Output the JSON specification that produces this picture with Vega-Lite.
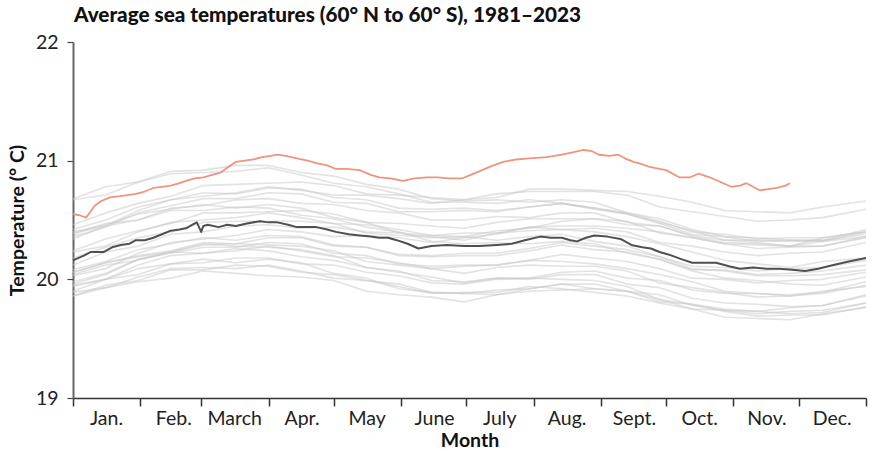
{
"$schema":"https://vega.github.io/schema/vega-lite/v6.json",
"width":793,"height":356,
"autosize":{"type":"none"},
"padding":{"left":73,"top":42,"right":20,"bottom":53},
"background":"white",
"title":{"text":"Average sea temperatures (60° N to 60° S), 1981–2023","anchor":"start","frame":"group","font":"Lato","fontSize":20.7,"fontWeight":900,"color":"#111","offset":5,"dx":1},
"config":{"view":{"stroke":null},"font":"Lato","axis":{"grid":false,"labelFont":"Lato","labelFontSize":19.5,"labelColor":"#222","titleFont":"Lato","titleFontSize":19.5,"titleFontWeight":"bold","titleColor":"#111","tickColor":"#444","domainColor":"#444"}},
"datasets":{
"grey":[
{"yr":1982,"d":0,"t":19.86},{"yr":1982,"d":15,"t":19.95},{"yr":1982,"d":30,"t":19.99},{"yr":1982,"d":45,"t":20.08},{"yr":1982,"d":60,"t":20.08},{"yr":1982,"d":75,"t":20.12},{"yr":1982,"d":90,"t":20.11},{"yr":1982,"d":105,"t":20.06},{"yr":1982,"d":120,"t":20.04},{"yr":1982,"d":135,"t":19.99},{"yr":1982,"d":150,"t":19.96},{"yr":1982,"d":165,"t":19.89},{"yr":1982,"d":180,"t":19.88},{"yr":1982,"d":195,"t":19.91},{"yr":1982,"d":210,"t":19.92},{"yr":1982,"d":225,"t":19.96},{"yr":1982,"d":240,"t":19.96},{"yr":1982,"d":255,"t":19.90},{"yr":1982,"d":270,"t":19.87},{"yr":1982,"d":285,"t":19.78},{"yr":1982,"d":300,"t":19.74},{"yr":1982,"d":315,"t":19.73},{"yr":1982,"d":330,"t":19.71},{"yr":1982,"d":345,"t":19.72},{"yr":1982,"d":365,"t":19.80},
{"yr":1983,"d":0,"t":19.94},{"yr":1983,"d":15,"t":20.00},{"yr":1983,"d":30,"t":20.09},{"yr":1983,"d":45,"t":20.13},{"yr":1983,"d":60,"t":20.17},{"yr":1983,"d":75,"t":20.14},{"yr":1983,"d":90,"t":20.17},{"yr":1983,"d":105,"t":20.14},{"yr":1983,"d":120,"t":20.05},{"yr":1983,"d":135,"t":20.01},{"yr":1983,"d":150,"t":19.92},{"yr":1983,"d":165,"t":19.89},{"yr":1983,"d":180,"t":19.88},{"yr":1983,"d":195,"t":19.87},{"yr":1983,"d":210,"t":19.92},{"yr":1983,"d":225,"t":19.96},{"yr":1983,"d":240,"t":19.92},{"yr":1983,"d":255,"t":19.90},{"yr":1983,"d":270,"t":19.83},{"yr":1983,"d":285,"t":19.75},{"yr":1983,"d":300,"t":19.74},{"yr":1983,"d":315,"t":19.71},{"yr":1983,"d":330,"t":19.73},{"yr":1983,"d":345,"t":19.74},{"yr":1983,"d":365,"t":19.80},
{"yr":1984,"d":0,"t":19.86},{"yr":1984,"d":15,"t":19.93},{"yr":1984,"d":30,"t":19.98},{"yr":1984,"d":45,"t":20.01},{"yr":1984,"d":60,"t":20.07},{"yr":1984,"d":75,"t":20.05},{"yr":1984,"d":90,"t":20.03},{"yr":1984,"d":105,"t":20.02},{"yr":1984,"d":120,"t":19.99},{"yr":1984,"d":135,"t":19.90},{"yr":1984,"d":150,"t":19.87},{"yr":1984,"d":165,"t":19.85},{"yr":1984,"d":180,"t":19.81},{"yr":1984,"d":195,"t":19.87},{"yr":1984,"d":210,"t":19.90},{"yr":1984,"d":225,"t":19.91},{"yr":1984,"d":240,"t":19.92},{"yr":1984,"d":255,"t":19.90},{"yr":1984,"d":270,"t":19.81},{"yr":1984,"d":285,"t":19.79},{"yr":1984,"d":300,"t":19.75},{"yr":1984,"d":315,"t":19.73},{"yr":1984,"d":330,"t":19.76},{"yr":1984,"d":345,"t":19.78},{"yr":1984,"d":365,"t":19.87},
{"yr":1985,"d":0,"t":19.89},{"yr":1985,"d":15,"t":19.93},{"yr":1985,"d":30,"t":20.02},{"yr":1985,"d":45,"t":20.09},{"yr":1985,"d":60,"t":20.10},{"yr":1985,"d":75,"t":20.09},{"yr":1985,"d":90,"t":20.12},{"yr":1985,"d":105,"t":20.07},{"yr":1985,"d":120,"t":20.01},{"yr":1985,"d":135,"t":19.99},{"yr":1985,"d":150,"t":19.94},{"yr":1985,"d":165,"t":19.88},{"yr":1985,"d":180,"t":19.89},{"yr":1985,"d":195,"t":19.89},{"yr":1985,"d":210,"t":19.94},{"yr":1985,"d":225,"t":19.92},{"yr":1985,"d":240,"t":19.89},{"yr":1985,"d":255,"t":19.86},{"yr":1985,"d":270,"t":19.80},{"yr":1985,"d":285,"t":19.75},{"yr":1985,"d":300,"t":19.68},{"yr":1985,"d":315,"t":19.67},{"yr":1985,"d":330,"t":19.66},{"yr":1985,"d":345,"t":19.71},{"yr":1985,"d":365,"t":19.76},
{"yr":1986,"d":0,"t":19.90},{"yr":1986,"d":15,"t":20.00},{"yr":1986,"d":30,"t":20.04},{"yr":1986,"d":45,"t":20.13},{"yr":1986,"d":60,"t":20.14},{"yr":1986,"d":75,"t":20.18},{"yr":1986,"d":90,"t":20.18},{"yr":1986,"d":105,"t":20.13},{"yr":1986,"d":120,"t":20.12},{"yr":1986,"d":135,"t":20.06},{"yr":1986,"d":150,"t":20.03},{"yr":1986,"d":165,"t":19.97},{"yr":1986,"d":180,"t":19.96},{"yr":1986,"d":195,"t":20.00},{"yr":1986,"d":210,"t":20.01},{"yr":1986,"d":225,"t":20.06},{"yr":1986,"d":240,"t":20.07},{"yr":1986,"d":255,"t":20.01},{"yr":1986,"d":270,"t":19.99},{"yr":1986,"d":285,"t":19.91},{"yr":1986,"d":300,"t":19.88},{"yr":1986,"d":315,"t":19.88},{"yr":1986,"d":330,"t":19.87},{"yr":1986,"d":345,"t":19.89},{"yr":1986,"d":365,"t":19.98},
{"yr":1987,"d":0,"t":19.98},{"yr":1987,"d":15,"t":20.05},{"yr":1987,"d":30,"t":20.17},{"yr":1987,"d":45,"t":20.22},{"yr":1987,"d":60,"t":20.27},{"yr":1987,"d":75,"t":20.27},{"yr":1987,"d":90,"t":20.31},{"yr":1987,"d":105,"t":20.30},{"yr":1987,"d":120,"t":20.22},{"yr":1987,"d":135,"t":20.20},{"yr":1987,"d":150,"t":20.13},{"yr":1987,"d":165,"t":20.11},{"yr":1987,"d":180,"t":20.12},{"yr":1987,"d":195,"t":20.12},{"yr":1987,"d":210,"t":20.16},{"yr":1987,"d":225,"t":20.21},{"yr":1987,"d":240,"t":20.18},{"yr":1987,"d":255,"t":20.15},{"yr":1987,"d":270,"t":20.09},{"yr":1987,"d":285,"t":20.01},{"yr":1987,"d":300,"t":20.00},{"yr":1987,"d":315,"t":19.97},{"yr":1987,"d":330,"t":19.99},{"yr":1987,"d":345,"t":20.00},{"yr":1987,"d":365,"t":20.06},
{"yr":1988,"d":0,"t":20.06},{"yr":1988,"d":15,"t":20.14},{"yr":1988,"d":30,"t":20.19},{"yr":1988,"d":45,"t":20.23},{"yr":1988,"d":60,"t":20.30},{"yr":1988,"d":75,"t":20.28},{"yr":1988,"d":90,"t":20.27},{"yr":1988,"d":105,"t":20.25},{"yr":1988,"d":120,"t":20.20},{"yr":1988,"d":135,"t":20.10},{"yr":1988,"d":150,"t":20.06},{"yr":1988,"d":165,"t":20.02},{"yr":1988,"d":180,"t":19.97},{"yr":1988,"d":195,"t":20.01},{"yr":1988,"d":210,"t":20.01},{"yr":1988,"d":225,"t":20.00},{"yr":1988,"d":240,"t":19.99},{"yr":1988,"d":255,"t":19.94},{"yr":1988,"d":270,"t":19.83},{"yr":1988,"d":285,"t":19.79},{"yr":1988,"d":300,"t":19.73},{"yr":1988,"d":315,"t":19.69},{"yr":1988,"d":330,"t":19.70},{"yr":1988,"d":345,"t":19.70},{"yr":1988,"d":365,"t":19.77},
{"yr":1990,"d":0,"t":19.95},{"yr":1990,"d":15,"t":20.00},{"yr":1990,"d":30,"t":20.12},{"yr":1990,"d":45,"t":20.20},{"yr":1990,"d":60,"t":20.22},{"yr":1990,"d":75,"t":20.24},{"yr":1990,"d":90,"t":20.28},{"yr":1990,"d":105,"t":20.24},{"yr":1990,"d":120,"t":20.19},{"yr":1990,"d":135,"t":20.18},{"yr":1990,"d":150,"t":20.14},{"yr":1990,"d":165,"t":20.09},{"yr":1990,"d":180,"t":20.11},{"yr":1990,"d":195,"t":20.12},{"yr":1990,"d":210,"t":20.16},{"yr":1990,"d":225,"t":20.15},{"yr":1990,"d":240,"t":20.13},{"yr":1990,"d":255,"t":20.09},{"yr":1990,"d":270,"t":20.04},{"yr":1990,"d":285,"t":19.98},{"yr":1990,"d":300,"t":19.90},{"yr":1990,"d":315,"t":19.88},{"yr":1990,"d":330,"t":19.86},{"yr":1990,"d":345,"t":19.90},{"yr":1990,"d":365,"t":19.94},
{"yr":1992,"d":0,"t":20.04},{"yr":1992,"d":15,"t":20.12},{"yr":1992,"d":30,"t":20.16},{"yr":1992,"d":45,"t":20.23},{"yr":1992,"d":60,"t":20.22},{"yr":1992,"d":75,"t":20.26},{"yr":1992,"d":90,"t":20.24},{"yr":1992,"d":105,"t":20.19},{"yr":1992,"d":120,"t":20.16},{"yr":1992,"d":135,"t":20.10},{"yr":1992,"d":150,"t":20.07},{"yr":1992,"d":165,"t":19.99},{"yr":1992,"d":180,"t":19.98},{"yr":1992,"d":195,"t":20.01},{"yr":1992,"d":210,"t":20.00},{"yr":1992,"d":225,"t":20.04},{"yr":1992,"d":240,"t":20.04},{"yr":1992,"d":255,"t":19.96},{"yr":1992,"d":270,"t":19.93},{"yr":1992,"d":285,"t":19.84},{"yr":1992,"d":300,"t":19.80},{"yr":1992,"d":315,"t":19.79},{"yr":1992,"d":330,"t":19.77},{"yr":1992,"d":345,"t":19.78},{"yr":1992,"d":365,"t":19.86},
{"yr":1994,"d":0,"t":19.96},{"yr":1994,"d":15,"t":20.04},{"yr":1994,"d":30,"t":20.17},{"yr":1994,"d":45,"t":20.23},{"yr":1994,"d":60,"t":20.29},{"yr":1994,"d":75,"t":20.30},{"yr":1994,"d":90,"t":20.35},{"yr":1994,"d":105,"t":20.35},{"yr":1994,"d":120,"t":20.28},{"yr":1994,"d":135,"t":20.27},{"yr":1994,"d":150,"t":20.21},{"yr":1994,"d":165,"t":20.20},{"yr":1994,"d":180,"t":20.22},{"yr":1994,"d":195,"t":20.22},{"yr":1994,"d":210,"t":20.26},{"yr":1994,"d":225,"t":20.31},{"yr":1994,"d":240,"t":20.28},{"yr":1994,"d":255,"t":20.25},{"yr":1994,"d":270,"t":20.19},{"yr":1994,"d":285,"t":20.11},{"yr":1994,"d":300,"t":20.10},{"yr":1994,"d":315,"t":20.07},{"yr":1994,"d":330,"t":20.09},{"yr":1994,"d":345,"t":20.10},{"yr":1994,"d":365,"t":20.16},
{"yr":1996,"d":0,"t":20.06},{"yr":1996,"d":15,"t":20.14},{"yr":1996,"d":30,"t":20.20},{"yr":1996,"d":45,"t":20.24},{"yr":1996,"d":60,"t":20.31},{"yr":1996,"d":75,"t":20.30},{"yr":1996,"d":90,"t":20.29},{"yr":1996,"d":105,"t":20.28},{"yr":1996,"d":120,"t":20.24},{"yr":1996,"d":135,"t":20.15},{"yr":1996,"d":150,"t":20.12},{"yr":1996,"d":165,"t":20.09},{"yr":1996,"d":180,"t":20.05},{"yr":1996,"d":195,"t":20.10},{"yr":1996,"d":210,"t":20.12},{"yr":1996,"d":225,"t":20.11},{"yr":1996,"d":240,"t":20.11},{"yr":1996,"d":255,"t":20.07},{"yr":1996,"d":270,"t":19.97},{"yr":1996,"d":285,"t":19.93},{"yr":1996,"d":300,"t":19.89},{"yr":1996,"d":315,"t":19.85},{"yr":1996,"d":330,"t":19.86},{"yr":1996,"d":345,"t":19.88},{"yr":1996,"d":365,"t":19.95},
{"yr":1997,"d":0,"t":20.03},{"yr":1997,"d":15,"t":20.09},{"yr":1997,"d":30,"t":20.22},{"yr":1997,"d":45,"t":20.31},{"yr":1997,"d":60,"t":20.34},{"yr":1997,"d":75,"t":20.37},{"yr":1997,"d":90,"t":20.42},{"yr":1997,"d":105,"t":20.40},{"yr":1997,"d":120,"t":20.36},{"yr":1997,"d":135,"t":20.37},{"yr":1997,"d":150,"t":20.35},{"yr":1997,"d":165,"t":20.31},{"yr":1997,"d":180,"t":20.35},{"yr":1997,"d":195,"t":20.38},{"yr":1997,"d":210,"t":20.44},{"yr":1997,"d":225,"t":20.45},{"yr":1997,"d":240,"t":20.45},{"yr":1997,"d":255,"t":20.43},{"yr":1997,"d":270,"t":20.40},{"yr":1997,"d":285,"t":20.35},{"yr":1997,"d":300,"t":20.30},{"yr":1997,"d":315,"t":20.29},{"yr":1997,"d":330,"t":20.28},{"yr":1997,"d":345,"t":20.35},{"yr":1997,"d":365,"t":20.40},
{"yr":1998,"d":0,"t":20.38},{"yr":1998,"d":15,"t":20.47},{"yr":1998,"d":30,"t":20.50},{"yr":1998,"d":45,"t":20.58},{"yr":1998,"d":60,"t":20.58},{"yr":1998,"d":75,"t":20.61},{"yr":1998,"d":90,"t":20.60},{"yr":1998,"d":105,"t":20.54},{"yr":1998,"d":120,"t":20.51},{"yr":1998,"d":135,"t":20.44},{"yr":1998,"d":150,"t":20.40},{"yr":1998,"d":165,"t":20.32},{"yr":1998,"d":180,"t":20.30},{"yr":1998,"d":195,"t":20.31},{"yr":1998,"d":210,"t":20.30},{"yr":1998,"d":225,"t":20.32},{"yr":1998,"d":240,"t":20.30},{"yr":1998,"d":255,"t":20.22},{"yr":1998,"d":270,"t":20.17},{"yr":1998,"d":285,"t":20.07},{"yr":1998,"d":300,"t":20.01},{"yr":1998,"d":315,"t":19.99},{"yr":1998,"d":330,"t":19.96},{"yr":1998,"d":345,"t":19.95},{"yr":1998,"d":365,"t":20.02},
{"yr":2000,"d":0,"t":20.08},{"yr":2000,"d":15,"t":20.15},{"yr":2000,"d":30,"t":20.25},{"yr":2000,"d":45,"t":20.30},{"yr":2000,"d":60,"t":20.35},{"yr":2000,"d":75,"t":20.33},{"yr":2000,"d":90,"t":20.37},{"yr":2000,"d":105,"t":20.36},{"yr":2000,"d":120,"t":20.29},{"yr":2000,"d":135,"t":20.27},{"yr":2000,"d":150,"t":20.20},{"yr":2000,"d":165,"t":20.19},{"yr":2000,"d":180,"t":20.20},{"yr":2000,"d":195,"t":20.20},{"yr":2000,"d":210,"t":20.24},{"yr":2000,"d":225,"t":20.29},{"yr":2000,"d":240,"t":20.25},{"yr":2000,"d":255,"t":20.23},{"yr":2000,"d":270,"t":20.17},{"yr":2000,"d":285,"t":20.08},{"yr":2000,"d":300,"t":20.08},{"yr":2000,"d":315,"t":20.04},{"yr":2000,"d":330,"t":20.05},{"yr":2000,"d":345,"t":20.07},{"yr":2000,"d":365,"t":20.12},
{"yr":2002,"d":0,"t":20.18},{"yr":2002,"d":15,"t":20.27},{"yr":2002,"d":30,"t":20.35},{"yr":2002,"d":45,"t":20.40},{"yr":2002,"d":60,"t":20.48},{"yr":2002,"d":75,"t":20.49},{"yr":2002,"d":90,"t":20.49},{"yr":2002,"d":105,"t":20.49},{"yr":2002,"d":120,"t":20.47},{"yr":2002,"d":135,"t":20.39},{"yr":2002,"d":150,"t":20.37},{"yr":2002,"d":165,"t":20.36},{"yr":2002,"d":180,"t":20.33},{"yr":2002,"d":195,"t":20.39},{"yr":2002,"d":210,"t":20.41},{"yr":2002,"d":225,"t":20.42},{"yr":2002,"d":240,"t":20.43},{"yr":2002,"d":255,"t":20.40},{"yr":2002,"d":270,"t":20.31},{"yr":2002,"d":285,"t":20.28},{"yr":2002,"d":300,"t":20.23},{"yr":2002,"d":315,"t":20.20},{"yr":2002,"d":330,"t":20.22},{"yr":2002,"d":345,"t":20.23},{"yr":2002,"d":365,"t":20.31},
{"yr":2005,"d":0,"t":20.23},{"yr":2005,"d":15,"t":20.28},{"yr":2005,"d":30,"t":20.40},{"yr":2005,"d":45,"t":20.48},{"yr":2005,"d":60,"t":20.50},{"yr":2005,"d":75,"t":20.52},{"yr":2005,"d":90,"t":20.56},{"yr":2005,"d":105,"t":20.52},{"yr":2005,"d":120,"t":20.47},{"yr":2005,"d":135,"t":20.46},{"yr":2005,"d":150,"t":20.42},{"yr":2005,"d":165,"t":20.37},{"yr":2005,"d":180,"t":20.39},{"yr":2005,"d":195,"t":20.39},{"yr":2005,"d":210,"t":20.44},{"yr":2005,"d":225,"t":20.42},{"yr":2005,"d":240,"t":20.40},{"yr":2005,"d":255,"t":20.36},{"yr":2005,"d":270,"t":20.30},{"yr":2005,"d":285,"t":20.23},{"yr":2005,"d":300,"t":20.16},{"yr":2005,"d":315,"t":20.13},{"yr":2005,"d":330,"t":20.10},{"yr":2005,"d":345,"t":20.15},{"yr":2005,"d":365,"t":20.18},
{"yr":2009,"d":0,"t":20.12},{"yr":2009,"d":15,"t":20.23},{"yr":2009,"d":30,"t":20.28},{"yr":2009,"d":45,"t":20.38},{"yr":2009,"d":60,"t":20.40},{"yr":2009,"d":75,"t":20.45},{"yr":2009,"d":90,"t":20.46},{"yr":2009,"d":105,"t":20.43},{"yr":2009,"d":120,"t":20.44},{"yr":2009,"d":135,"t":20.40},{"yr":2009,"d":150,"t":20.39},{"yr":2009,"d":165,"t":20.35},{"yr":2009,"d":180,"t":20.36},{"yr":2009,"d":195,"t":20.41},{"yr":2009,"d":210,"t":20.43},{"yr":2009,"d":225,"t":20.49},{"yr":2009,"d":240,"t":20.51},{"yr":2009,"d":255,"t":20.46},{"yr":2009,"d":270,"t":20.45},{"yr":2009,"d":285,"t":20.37},{"yr":2009,"d":300,"t":20.33},{"yr":2009,"d":315,"t":20.33},{"yr":2009,"d":330,"t":20.32},{"yr":2009,"d":345,"t":20.33},{"yr":2009,"d":365,"t":20.42},
{"yr":2010,"d":0,"t":20.40},{"yr":2010,"d":15,"t":20.46},{"yr":2010,"d":30,"t":20.55},{"yr":2010,"d":45,"t":20.59},{"yr":2010,"d":60,"t":20.63},{"yr":2010,"d":75,"t":20.60},{"yr":2010,"d":90,"t":20.63},{"yr":2010,"d":105,"t":20.60},{"yr":2010,"d":120,"t":20.52},{"yr":2010,"d":135,"t":20.48},{"yr":2010,"d":150,"t":20.39},{"yr":2010,"d":165,"t":20.37},{"yr":2010,"d":180,"t":20.36},{"yr":2010,"d":195,"t":20.33},{"yr":2010,"d":210,"t":20.36},{"yr":2010,"d":225,"t":20.38},{"yr":2010,"d":240,"t":20.32},{"yr":2010,"d":255,"t":20.28},{"yr":2010,"d":270,"t":20.19},{"yr":2010,"d":285,"t":20.09},{"yr":2010,"d":300,"t":20.07},{"yr":2010,"d":315,"t":20.03},{"yr":2010,"d":330,"t":20.03},{"yr":2010,"d":345,"t":20.04},{"yr":2010,"d":365,"t":20.08},
{"yr":2013,"d":0,"t":20.24},{"yr":2013,"d":15,"t":20.34},{"yr":2013,"d":30,"t":20.41},{"yr":2013,"d":45,"t":20.47},{"yr":2013,"d":60,"t":20.56},{"yr":2013,"d":75,"t":20.56},{"yr":2013,"d":90,"t":20.57},{"yr":2013,"d":105,"t":20.58},{"yr":2013,"d":120,"t":20.55},{"yr":2013,"d":135,"t":20.48},{"yr":2013,"d":150,"t":20.47},{"yr":2013,"d":165,"t":20.45},{"yr":2013,"d":180,"t":20.43},{"yr":2013,"d":195,"t":20.48},{"yr":2013,"d":210,"t":20.51},{"yr":2013,"d":225,"t":20.51},{"yr":2013,"d":240,"t":20.51},{"yr":2013,"d":255,"t":20.49},{"yr":2013,"d":270,"t":20.39},{"yr":2013,"d":285,"t":20.35},{"yr":2013,"d":300,"t":20.30},{"yr":2013,"d":315,"t":20.26},{"yr":2013,"d":330,"t":20.27},{"yr":2013,"d":345,"t":20.28},{"yr":2013,"d":365,"t":20.35},
{"yr":2015,"d":0,"t":20.39},{"yr":2015,"d":15,"t":20.45},{"yr":2015,"d":30,"t":20.58},{"yr":2015,"d":45,"t":20.67},{"yr":2015,"d":60,"t":20.70},{"yr":2015,"d":75,"t":20.73},{"yr":2015,"d":90,"t":20.78},{"yr":2015,"d":105,"t":20.75},{"yr":2015,"d":120,"t":20.71},{"yr":2015,"d":135,"t":20.71},{"yr":2015,"d":150,"t":20.68},{"yr":2015,"d":165,"t":20.64},{"yr":2015,"d":180,"t":20.67},{"yr":2015,"d":195,"t":20.69},{"yr":2015,"d":210,"t":20.76},{"yr":2015,"d":225,"t":20.76},{"yr":2015,"d":240,"t":20.75},{"yr":2015,"d":255,"t":20.74},{"yr":2015,"d":270,"t":20.70},{"yr":2015,"d":285,"t":20.65},{"yr":2015,"d":300,"t":20.58},{"yr":2015,"d":315,"t":20.57},{"yr":2015,"d":330,"t":20.56},{"yr":2015,"d":345,"t":20.61},{"yr":2015,"d":365,"t":20.66},
{"yr":2016,"d":0,"t":20.68},{"yr":2016,"d":15,"t":20.78},{"yr":2016,"d":30,"t":20.82},{"yr":2016,"d":45,"t":20.91},{"yr":2016,"d":60,"t":20.92},{"yr":2016,"d":75,"t":20.96},{"yr":2016,"d":90,"t":20.96},{"yr":2016,"d":105,"t":20.90},{"yr":2016,"d":120,"t":20.87},{"yr":2016,"d":135,"t":20.80},{"yr":2016,"d":150,"t":20.76},{"yr":2016,"d":165,"t":20.68},{"yr":2016,"d":180,"t":20.66},{"yr":2016,"d":195,"t":20.67},{"yr":2016,"d":210,"t":20.65},{"yr":2016,"d":225,"t":20.67},{"yr":2016,"d":240,"t":20.65},{"yr":2016,"d":255,"t":20.56},{"yr":2016,"d":270,"t":20.51},{"yr":2016,"d":285,"t":20.42},{"yr":2016,"d":300,"t":20.36},{"yr":2016,"d":315,"t":20.35},{"yr":2016,"d":330,"t":20.33},{"yr":2016,"d":345,"t":20.32},{"yr":2016,"d":365,"t":20.40},
{"yr":2017,"d":0,"t":20.42},{"yr":2017,"d":15,"t":20.50},{"yr":2017,"d":30,"t":20.61},{"yr":2017,"d":45,"t":20.67},{"yr":2017,"d":60,"t":20.73},{"yr":2017,"d":75,"t":20.72},{"yr":2017,"d":90,"t":20.77},{"yr":2017,"d":105,"t":20.76},{"yr":2017,"d":120,"t":20.69},{"yr":2017,"d":135,"t":20.67},{"yr":2017,"d":150,"t":20.60},{"yr":2017,"d":165,"t":20.59},{"yr":2017,"d":180,"t":20.60},{"yr":2017,"d":195,"t":20.58},{"yr":2017,"d":210,"t":20.61},{"yr":2017,"d":225,"t":20.64},{"yr":2017,"d":240,"t":20.59},{"yr":2017,"d":255,"t":20.55},{"yr":2017,"d":270,"t":20.47},{"yr":2017,"d":285,"t":20.38},{"yr":2017,"d":300,"t":20.36},{"yr":2017,"d":315,"t":20.32},{"yr":2017,"d":330,"t":20.33},{"yr":2017,"d":345,"t":20.33},{"yr":2017,"d":365,"t":20.38},
{"yr":2019,"d":0,"t":20.46},{"yr":2019,"d":15,"t":20.56},{"yr":2019,"d":30,"t":20.64},{"yr":2019,"d":45,"t":20.70},{"yr":2019,"d":60,"t":20.79},{"yr":2019,"d":75,"t":20.80},{"yr":2019,"d":90,"t":20.81},{"yr":2019,"d":105,"t":20.82},{"yr":2019,"d":120,"t":20.79},{"yr":2019,"d":135,"t":20.72},{"yr":2019,"d":150,"t":20.71},{"yr":2019,"d":165,"t":20.69},{"yr":2019,"d":180,"t":20.67},{"yr":2019,"d":195,"t":20.72},{"yr":2019,"d":210,"t":20.74},{"yr":2019,"d":225,"t":20.74},{"yr":2019,"d":240,"t":20.74},{"yr":2019,"d":255,"t":20.71},{"yr":2019,"d":270,"t":20.61},{"yr":2019,"d":285,"t":20.57},{"yr":2019,"d":300,"t":20.53},{"yr":2019,"d":315,"t":20.49},{"yr":2019,"d":330,"t":20.50},{"yr":2019,"d":345,"t":20.52},{"yr":2019,"d":365,"t":20.59},
{"yr":2020,"d":0,"t":20.67},{"yr":2020,"d":15,"t":20.71},{"yr":2020,"d":30,"t":20.82},{"yr":2020,"d":45,"t":20.89},{"yr":2020,"d":60,"t":20.90},{"yr":2020,"d":75,"t":20.91},{"yr":2020,"d":90,"t":20.94},{"yr":2020,"d":105,"t":20.88},{"yr":2020,"d":120,"t":20.81},{"yr":2020,"d":135,"t":20.78},{"yr":2020,"d":150,"t":20.72},{"yr":2020,"d":165,"t":20.65},{"yr":2020,"d":180,"t":20.65},{"yr":2020,"d":195,"t":20.64},{"yr":2020,"d":210,"t":20.67},{"yr":2020,"d":225,"t":20.64},{"yr":2020,"d":240,"t":20.60},{"yr":2020,"d":255,"t":20.55},{"yr":2020,"d":270,"t":20.48},{"yr":2020,"d":285,"t":20.41},{"yr":2020,"d":300,"t":20.33},{"yr":2020,"d":315,"t":20.31},{"yr":2020,"d":330,"t":20.28},{"yr":2020,"d":345,"t":20.32},{"yr":2020,"d":365,"t":20.36},
{"yr":2021,"d":0,"t":20.34},{"yr":2021,"d":15,"t":20.45},{"yr":2021,"d":30,"t":20.50},{"yr":2021,"d":45,"t":20.60},{"yr":2021,"d":60,"t":20.62},{"yr":2021,"d":75,"t":20.67},{"yr":2021,"d":90,"t":20.68},{"yr":2021,"d":105,"t":20.64},{"yr":2021,"d":120,"t":20.63},{"yr":2021,"d":135,"t":20.58},{"yr":2021,"d":150,"t":20.56},{"yr":2021,"d":165,"t":20.50},{"yr":2021,"d":180,"t":20.50},{"yr":2021,"d":195,"t":20.53},{"yr":2021,"d":210,"t":20.52},{"yr":2021,"d":225,"t":20.56},{"yr":2021,"d":240,"t":20.56},{"yr":2021,"d":255,"t":20.48},{"yr":2021,"d":270,"t":20.45},{"yr":2021,"d":285,"t":20.36},{"yr":2021,"d":300,"t":20.31},{"yr":2021,"d":315,"t":20.30},{"yr":2021,"d":330,"t":20.28},{"yr":2021,"d":345,"t":20.28},{"yr":2021,"d":365,"t":20.36},
{"yr":2022,"d":0,"t":20.36},{"yr":2022,"d":15,"t":20.44},{"yr":2022,"d":30,"t":20.56},{"yr":2022,"d":45,"t":20.62},{"yr":2022,"d":60,"t":20.68},{"yr":2022,"d":75,"t":20.68},{"yr":2022,"d":90,"t":20.73},{"yr":2022,"d":105,"t":20.72},{"yr":2022,"d":120,"t":20.65},{"yr":2022,"d":135,"t":20.64},{"yr":2022,"d":150,"t":20.57},{"yr":2022,"d":165,"t":20.57},{"yr":2022,"d":180,"t":20.58},{"yr":2022,"d":195,"t":20.57},{"yr":2022,"d":210,"t":20.61},{"yr":2022,"d":225,"t":20.64},{"yr":2022,"d":240,"t":20.60},{"yr":2022,"d":255,"t":20.56},{"yr":2022,"d":270,"t":20.49},{"yr":2022,"d":285,"t":20.40},{"yr":2022,"d":300,"t":20.38},{"yr":2022,"d":315,"t":20.34},{"yr":2022,"d":330,"t":20.35},{"yr":2022,"d":345,"t":20.35},{"yr":2022,"d":365,"t":20.40}
],
"mean":[
{"d":0,"t":20.16},{"d":5,"t":20.20},{"d":8,"t":20.23},{"d":14,"t":20.23},{"d":18,"t":20.27},{"d":22,"t":20.29},{"d":26,"t":20.30},{"d":29,"t":20.33},{"d":33,"t":20.33},{"d":37,"t":20.35},{"d":41,"t":20.38},{"d":45,"t":20.41},{"d":49,"t":20.42},{"d":52,"t":20.43},{"d":55,"t":20.46},{"d":57,"t":20.48},{"d":58,"t":20.44},{"d":59,"t":20.40},{"d":60,"t":20.45},{"d":62,"t":20.46},{"d":67,"t":20.44},{"d":71,"t":20.46},{"d":75,"t":20.45},{"d":80,"t":20.47},{"d":86,"t":20.49},{"d":90,"t":20.48},{"d":94,"t":20.48},{"d":99,"t":20.46},{"d":103,"t":20.44},{"d":108,"t":20.44},{"d":112,"t":20.44},{"d":117,"t":20.42},{"d":121,"t":20.40},{"d":127,"t":20.38},{"d":132,"t":20.37},{"d":137,"t":20.36},{"d":141,"t":20.35},{"d":145,"t":20.35},{"d":149,"t":20.33},{"d":154,"t":20.30},{"d":159,"t":20.26},{"d":165,"t":20.28},{"d":172,"t":20.29},{"d":180,"t":20.28},{"d":187,"t":20.28},{"d":195,"t":20.29},{"d":202,"t":20.30},{"d":208,"t":20.33},{"d":215,"t":20.36},{"d":220,"t":20.35},{"d":225,"t":20.35},{"d":229,"t":20.33},{"d":232,"t":20.32},{"d":236,"t":20.35},{"d":240,"t":20.37},{"d":246,"t":20.36},{"d":252,"t":20.34},{"d":257,"t":20.29},{"d":262,"t":20.27},{"d":266,"t":20.26},{"d":270,"t":20.23},{"d":274,"t":20.21},{"d":280,"t":20.17},{"d":285,"t":20.14},{"d":290,"t":20.14},{"d":296,"t":20.14},{"d":302,"t":20.11},{"d":307,"t":20.09},{"d":313,"t":20.10},{"d":319,"t":20.09},{"d":325,"t":20.09},{"d":331,"t":20.08},{"d":337,"t":20.07},{"d":343,"t":20.09},{"d":350,"t":20.12},{"d":357,"t":20.15},{"d":365,"t":20.18}
],
"y2023":[
{"d":0,"t":20.55},{"d":3,"t":20.54},{"d":6,"t":20.52},{"d":8,"t":20.57},{"d":10,"t":20.62},{"d":13,"t":20.66},{"d":17,"t":20.69},{"d":21,"t":20.70},{"d":25,"t":20.71},{"d":29,"t":20.72},{"d":33,"t":20.74},{"d":37,"t":20.77},{"d":41,"t":20.78},{"d":45,"t":20.79},{"d":49,"t":20.81},{"d":52,"t":20.83},{"d":56,"t":20.85},{"d":60,"t":20.86},{"d":64,"t":20.88},{"d":68,"t":20.90},{"d":71,"t":20.94},{"d":75,"t":20.99},{"d":79,"t":21.00},{"d":83,"t":21.01},{"d":87,"t":21.03},{"d":91,"t":21.04},{"d":94,"t":21.05},{"d":98,"t":21.04},{"d":103,"t":21.02},{"d":108,"t":21.00},{"d":112,"t":20.98},{"d":117,"t":20.96},{"d":121,"t":20.93},{"d":126,"t":20.93},{"d":132,"t":20.92},{"d":137,"t":20.88},{"d":141,"t":20.86},{"d":146,"t":20.85},{"d":152,"t":20.83},{"d":157,"t":20.85},{"d":163,"t":20.86},{"d":168,"t":20.86},{"d":173,"t":20.85},{"d":179,"t":20.85},{"d":183,"t":20.88},{"d":187,"t":20.91},{"d":192,"t":20.95},{"d":198,"t":20.99},{"d":204,"t":21.01},{"d":210,"t":21.02},{"d":218,"t":21.03},{"d":225,"t":21.05},{"d":230,"t":21.07},{"d":235,"t":21.09},{"d":239,"t":21.08},{"d":242,"t":21.05},{"d":247,"t":21.04},{"d":251,"t":21.05},{"d":254,"t":21.02},{"d":258,"t":20.99},{"d":262,"t":20.97},{"d":265,"t":20.95},{"d":270,"t":20.93},{"d":273,"t":20.92},{"d":279,"t":20.86},{"d":284,"t":20.86},{"d":288,"t":20.89},{"d":293,"t":20.86},{"d":298,"t":20.82},{"d":303,"t":20.78},{"d":307,"t":20.79},{"d":310,"t":20.81},{"d":313,"t":20.78},{"d":316,"t":20.75},{"d":320,"t":20.76},{"d":324,"t":20.77},{"d":328,"t":20.79},{"d":330,"t":20.81}
]
},
"layer":[
{"data":{"name":"grey"},
 "mark":{"type":"line","stroke":"#c8c8c8","strokeWidth":1.6,"opacity":0.5,"strokeJoin":"round"},
 "encoding":{
  "x":{"field":"d","type":"quantitative","scale":{"domain":[0,365],"nice":false,"zero":false},
   "axis":{"title":"Month","values":[0,31,59,90,120,151,181,212,243,273,304,334,365],
    "labelExpr":"datum.value==0?'Jan.':datum.value==31?'Feb.':datum.value==59?'March':datum.value==90?'Apr.':datum.value==120?'May':datum.value==151?'June':datum.value==181?'July':datum.value==212?'Aug.':datum.value==243?'Sept.':datum.value==273?'Oct.':datum.value==304?'Nov.':datum.value==334?'Dec.':''",
    "labelOffset":33,"labelFlush":false,"labelOverlap":false,"labelBound":false,"tickSize":8,"labelPadding":3,"titlePadding":4,"domainColor":"#333","domainWidth":1.5,"tickColor":"#333","tickWidth":1.5}},
  "y":{"field":"t","type":"quantitative","scale":{"domain":[19,22],"nice":false,"zero":false},
   "axis":{"title":"Temperature (° C)","values":[19,20,21,22],"format":"d","tickSize":6,"labelPadding":9,"titlePadding":8,"domainColor":"#666","domainWidth":2,"tickColor":"#444","tickWidth":1.2}},
  "detail":{"field":"yr","type":"nominal"}
 }},
{"data":{"name":"mean"},
 "mark":{"type":"line","stroke":"#505050","strokeWidth":2,"strokeJoin":"round"},
 "encoding":{"x":{"field":"d","type":"quantitative"},"y":{"field":"t","type":"quantitative"}}},
{"data":{"name":"y2023"},
 "mark":{"type":"line","stroke":"#f0937f","strokeWidth":1.8,"strokeJoin":"round"},
 "encoding":{"x":{"field":"d","type":"quantitative"},"y":{"field":"t","type":"quantitative"}}}
]
}
